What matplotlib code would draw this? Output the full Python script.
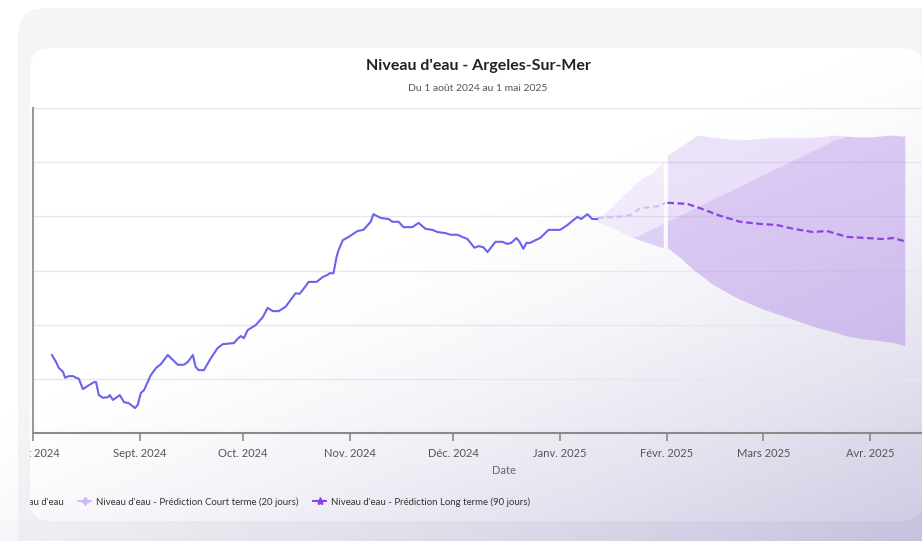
# Niveau d'eau - Argeles-Sur-Mer : observed level + short / long term predictions

import numpy as np
import pandas as pd
import matplotlib.pyplot as plt
from matplotlib.lines import Line2D
from matplotlib.transforms import Bbox, TransformedBbox

START = pd.Timestamp("2024-08-01")      # day offsets below are counted from here

# observed level (day offset, level)
hist_day = [5.5, 6.7, 7.5, 8.7, 9.3, 10.4, 11.6, 12.5, 13.3, 14.5, 15.9, 17.7, 18.3, 19.1,
            20.3, 21.7, 22.3, 23.2, 25.2, 26.4, 27.8, 29.6, 30.4, 31.3, 32.2, 34.2, 35.7,
            37.1, 39.1, 40.6, 42.0, 43.8, 44.9, 46.4, 47.2, 48.1, 49.6, 51.6, 53.6, 55.1,
            58.3, 59.4, 60.3, 61.2, 62.3, 64.6, 66.7, 68.1, 69.6, 71.3, 73.3, 74.8, 76.2,
            77.4, 79.1, 80.0, 82.3, 84.1, 85.5, 86.1, 87.2, 88.1, 88.7, 89.9, 91.6, 94.2,
            95.9, 98.0, 98.8, 100.9, 103.2, 104.3, 106.1, 107.5, 110.1, 111.9, 113.9, 115.9,
            117.4, 119.7, 121.2, 123.2, 124.6, 126.1, 127.0, 128.1, 129.3, 130.7, 131.9,
            134.2, 136.2, 137.7, 138.8, 140.3, 141.2, 142.3, 143.2, 144.3, 145.8, 147.2,
            149.6, 153.0, 155.1, 158.0, 159.1, 160.9, 162.3, 163.8]
hist_lvl = [1.44, 1.31, 1.20, 1.13, 1.02, 1.05, 1.05, 1.02, 1.00, 0.81, 0.87, 0.94, 0.94, 0.70,
            0.65, 0.66, 0.70, 0.61, 0.70, 0.57, 0.55, 0.46, 0.52, 0.74, 0.79, 1.07, 1.20,
            1.27, 1.44, 1.35, 1.26, 1.26, 1.31, 1.44, 1.22, 1.16, 1.16, 1.38, 1.57, 1.64,
            1.66, 1.74, 1.79, 1.75, 1.90, 1.99, 2.14, 2.31, 2.25, 2.25, 2.33, 2.46, 2.58,
            2.57, 2.71, 2.79, 2.79, 2.88, 2.92, 2.95, 2.95, 3.25, 3.38, 3.56, 3.62, 3.73,
            3.75, 3.90, 4.04, 3.97, 3.95, 3.90, 3.90, 3.80, 3.80, 3.88, 3.77, 3.75,
            3.71, 3.69, 3.66, 3.66, 3.62, 3.58, 3.51, 3.42, 3.45, 3.43, 3.34,
            3.53, 3.53, 3.49, 3.51, 3.60, 3.53, 3.40, 3.51, 3.51, 3.56, 3.60,
            3.75, 3.75, 3.84, 3.99, 3.95, 4.04, 3.95, 3.95]

# short term prediction (20 days)
st_day = [163.8, 169.6, 173.3, 176.2, 179.1, 182.0, 183.5]
st_lvl = [3.97, 3.99, 4.02, 4.15, 4.17, 4.19, 4.25]
st_band_day = [163.8, 167.5, 171.3, 175.4, 177.1, 179.7, 181.2, 182.9]
st_band_up = [3.93, 4.15, 4.39, 4.63, 4.71, 4.80, 4.91, 5.00]
st_band_lo = [3.90, 3.80, 3.69, 3.58, 3.54, 3.49, 3.45, 3.42]

# long term prediction (90 days)
lt_day = [184.1, 189.9, 193.6, 199.4, 205.2, 211.0, 215.9, 220.6, 226.4, 230.4, 236.2,
          242.0, 246.7, 249.6, 253.0]
lt_lvl = [4.25, 4.23, 4.15, 4.01, 3.90, 3.86, 3.84, 3.77, 3.71, 3.73, 3.62,
          3.60, 3.58, 3.60, 3.54]
lt_band_day = [184.1, 187.8, 191.6, 192.8, 197.4, 203.2, 205.2, 211.0, 216.8, 218.8, 224.6,
               226.4, 230.4, 232.2, 236.2, 240.9, 243.8, 248.7, 250.7, 253.0]
lt_band_up = [5.13, 5.28, 5.45, 5.50, 5.46, 5.42, 5.41, 5.44, 5.46, 5.46, 5.46,
              5.46, 5.48, 5.50, 5.48, 5.46, 5.47, 5.50, 5.49, 5.48]
lt_band_lo = [3.42, 3.24, 3.02, 2.96, 2.74, 2.53, 2.47, 2.31, 2.18, 2.14, 2.01,
              1.97, 1.90, 1.87, 1.79, 1.74, 1.72, 1.68, 1.66, 1.61]
# straight span of the long term upper bound (drawn as a chord)
lt_span_day = [174.2, 234.2]
lt_span_lvl = [3.60, 5.46]

tick_dates = ["2024-08-01", "2024-09-01", "2024-10-01", "2024-11-01", "2024-12-01",
              "2025-01-01", "2025-02-01", "2025-03-01", "2025-04-01"]
tick_labels = ["Août 2024", "Sept. 2024", "Oct. 2024", "Nov. 2024", "Déc. 2024",
               "Janv. 2025", "Févr. 2025", "Mars 2025", "Avr. 2025"]
legend_labels = ["Niveau d'eau",
                 "Niveau d'eau - Prédiction Court terme (20 jours)",
                 "Niveau d'eau - Prédiction Long terme (90 jours)"]


def to_dates(days):
    return START + pd.to_timedelta(np.asarray(days), unit="D")


plt.rcParams.update({"font.family": ["Lato", "DejaVu Sans"]})

W, H = 922, 541
fig = plt.figure(figsize=(W / 100, H / 100), dpi=100)

# page background: grey container, white card, lavender wash towards bottom right
yy, xx = np.mgrid[0:H, 0:W].astype(float)
def rounded(x0, y0, x1, y1, r):
    cx = np.clip(xx, x0 + r, x1 - r); cy = np.clip(yy, y0 + r, y1 - r)
    return (xx >= x0) & (xx <= x1) & (yy >= y0) & (yy <= y1) & ((xx - cx)**2 + (yy - cy)**2 <= r * r)
base = np.ones((H, W, 3))
base[rounded(18, 8, 990, 620, 22)] = np.array([245, 245, 247]) / 255
card = rounded(30, 48, 921, 520, 16)
base[card] = 1.0
s = 0.42 * xx / W + 0.58 * yy / H
t = np.clip((s - 0.45) / 0.55, 0, 1) ** 1.4
t[card] *= 0.88
lav = np.array([196, 194, 221]) / 255
img = base * (1 - t[..., None]) + lav * t[..., None]
bg = fig.add_axes([0, 0, 1, 1], zorder=-5)
bg.imshow(img, aspect="auto", interpolation="bilinear")
bg.axis("off")

ax = fig.add_axes([33 / W, (H - 433) / H, (W - 33) / W, 325 / H])
ax.set_facecolor("none")

PURPLE = "#9e6be6"
# confidence bands
ax.fill_between(to_dates(st_band_day), st_band_lo, st_band_up, color=PURPLE, alpha=0.12, lw=0)
ax.fill_between(to_dates(lt_band_day), lt_band_lo, lt_band_up, color=PURPLE, alpha=0.19, lw=0)
# overlapping part under the long term upper span
span_st = np.minimum(st_band_up, np.interp(st_band_day, lt_span_day, lt_span_lvl))
ax.fill_between(to_dates(st_band_day), st_band_lo, span_st,
                where=span_st > np.array(st_band_lo), interpolate=True,
                color=PURPLE, alpha=0.19, lw=0)
span_lt = np.minimum(lt_band_up, np.interp(lt_band_day, lt_span_day, lt_span_lvl, right=np.inf))
ax.fill_between(to_dates(lt_band_day), lt_band_lo, span_lt, color=PURPLE, alpha=0.19, lw=0)

# lines
ax.plot(to_dates(hist_day), hist_lvl, color="#6a63ee", lw=1.5, zorder=4)
ax.plot(to_dates(st_day), st_lvl, color="#d3b8f4", lw=1.4, ls=(0, (3, 2)), zorder=4)
ax.plot(to_dates(lt_day), lt_lvl, color="#8b45dd", lw=1.6, ls=(0, (3, 1.6)), zorder=4)

ax.set_xlim(START, START + pd.Timedelta(days=258))
ax.set_ylim(0, 6)
ax.set_yticks(range(0, 7))
ax.yaxis.grid(True, color="#e6e6ec", lw=1.0)
ax.set_axisbelow(True)
ax.tick_params(axis="y", length=0, labelleft=False)
ax.set_xticks(pd.to_datetime(tick_dates))
ax.set_xticklabels(tick_labels)
ax.tick_params(axis="x", length=6, width=1.2, color="#8a8a8a", pad=5,
               labelsize=8, labelcolor="#555555")
for sp in ("top", "right"):
    ax.spines[sp].set_visible(False)
ax.spines["left"].set_color("#9a9a9a"); ax.spines["left"].set_linewidth(1.5)
ax.spines["bottom"].set_color("#8a8a8a"); ax.spines["bottom"].set_linewidth(1.5)
ax.set_xlabel("Date", fontsize=8, color="#666666")
ax.xaxis.set_label_coords((504 - 33) / (W - 33), -(470 - 433) / 325)
ax.xaxis.label.set_va("center")

# card clips everything left of its edge
clip = TransformedBbox(Bbox([[30 / W, 0], [1, 1]]), fig.transFigure)
for lab in ax.get_xticklabels():
    lab.set_clip_box(clip); lab.set_clip_on(True)

fig.text(478 / W, 1 - 66 / H, "Niveau d'eau - Argeles-Sur-Mer", ha="center", va="center",
         fontsize=11.5, fontweight="bold", color="#222222")
fig.text(478 / W, 1 - 88 / H, "Du 1 août 2024 au 1 mai 2025", ha="center", va="center",
         fontsize=7.5, color="#555555")

handles = [Line2D([], [], color="#6a63ee", lw=1.4, marker="o", ms=4),
           Line2D([], [], color="#d3b8f4", lw=1.4, marker=(4, 1, 0), ms=6),
           Line2D([], [], color="#8b45dd", lw=1.4, marker="*", ms=6)]
leg = fig.legend(handles, legend_labels, loc="center right", ncol=3, frameon=False,
                 bbox_to_anchor=(530 / W, 1 - 502 / H), fontsize=6.9, borderpad=0,
                 borderaxespad=0, handlelength=1.35, handletextpad=0.5, columnspacing=1.55)
for txt in leg.get_texts():
    txt.set_color("#333333")
    txt.set_clip_box(clip); txt.set_clip_on(True)
for hd in leg.legend_handles:
    hd.set_clip_box(clip); hd.set_clip_on(True)

fig.savefig("out.png", dpi=100)
